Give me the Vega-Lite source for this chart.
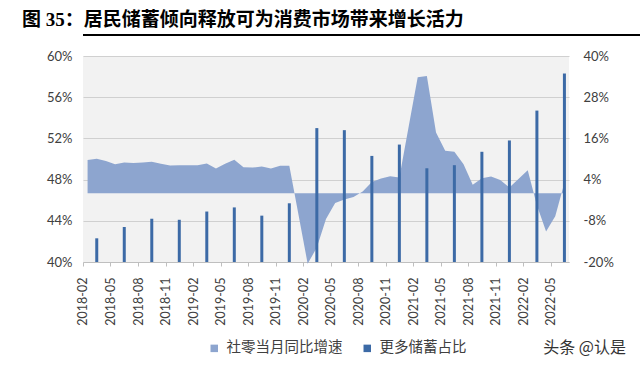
{
  "$schema": "https://vega.github.io/schema/vega-lite/v6.json",
  "background": "white",
  "padding": {"left": 22, "top": 11, "right": 0, "bottom": 12},
  "title": {"text": "图 35：居民储蓄倾向释放可为消费市场带来增长活力", "anchor": "start", "font": "Liberation Serif, Noto Sans CJK SC", "fontSize": 19, "fontWeight": "bold", "color": "#000000", "offset": 4},
  "spacing": 14,
  "datasets": {
    "d": [
      {"month": "2018-02", "series": "社零当月同比增速", "value": 0.097},
      {"month": "2018-03", "series": "社零当月同比增速", "value": 0.101},
      {"month": "2018-04", "series": "社零当月同比增速", "value": 0.094},
      {"month": "2018-05", "series": "社零当月同比增速", "value": 0.085},
      {"month": "2018-06", "series": "社零当月同比增速", "value": 0.090},
      {"month": "2018-07", "series": "社零当月同比增速", "value": 0.088},
      {"month": "2018-08", "series": "社零当月同比增速", "value": 0.090},
      {"month": "2018-09", "series": "社零当月同比增速", "value": 0.092},
      {"month": "2018-10", "series": "社零当月同比增速", "value": 0.086},
      {"month": "2018-11", "series": "社零当月同比增速", "value": 0.081},
      {"month": "2018-12", "series": "社零当月同比增速", "value": 0.082},
      {"month": "2019-02", "series": "社零当月同比增速", "value": 0.082},
      {"month": "2019-03", "series": "社零当月同比增速", "value": 0.087},
      {"month": "2019-04", "series": "社零当月同比增速", "value": 0.072},
      {"month": "2019-05", "series": "社零当月同比增速", "value": 0.086},
      {"month": "2019-06", "series": "社零当月同比增速", "value": 0.098},
      {"month": "2019-07", "series": "社零当月同比增速", "value": 0.076},
      {"month": "2019-08", "series": "社零当月同比增速", "value": 0.075},
      {"month": "2019-09", "series": "社零当月同比增速", "value": 0.078},
      {"month": "2019-10", "series": "社零当月同比增速", "value": 0.072},
      {"month": "2019-11", "series": "社零当月同比增速", "value": 0.080},
      {"month": "2019-12", "series": "社零当月同比增速", "value": 0.080},
      {"month": "2020-02", "series": "社零当月同比增速", "value": -0.205},
      {"month": "2020-03", "series": "社零当月同比增速", "value": -0.158},
      {"month": "2020-04", "series": "社零当月同比增速", "value": -0.075},
      {"month": "2020-05", "series": "社零当月同比增速", "value": -0.028},
      {"month": "2020-06", "series": "社零当月同比增速", "value": -0.018},
      {"month": "2020-07", "series": "社零当月同比增速", "value": -0.011},
      {"month": "2020-08", "series": "社零当月同比增速", "value": 0.005},
      {"month": "2020-09", "series": "社零当月同比增速", "value": 0.033},
      {"month": "2020-10", "series": "社零当月同比增速", "value": 0.043},
      {"month": "2020-11", "series": "社零当月同比增速", "value": 0.050},
      {"month": "2020-12", "series": "社零当月同比增速", "value": 0.046},
      {"month": "2021-02", "series": "社零当月同比增速", "value": 0.338},
      {"month": "2021-03", "series": "社零当月同比增速", "value": 0.342},
      {"month": "2021-04", "series": "社零当月同比增速", "value": 0.177},
      {"month": "2021-05", "series": "社零当月同比增速", "value": 0.124},
      {"month": "2021-06", "series": "社零当月同比增速", "value": 0.121},
      {"month": "2021-07", "series": "社零当月同比增速", "value": 0.085},
      {"month": "2021-08", "series": "社零当月同比增速", "value": 0.025},
      {"month": "2021-09", "series": "社零当月同比增速", "value": 0.044},
      {"month": "2021-10", "series": "社零当月同比增速", "value": 0.049},
      {"month": "2021-11", "series": "社零当月同比增速", "value": 0.039},
      {"month": "2021-12", "series": "社零当月同比增速", "value": 0.017},
      {"month": "2022-02", "series": "社零当月同比增速", "value": 0.067},
      {"month": "2022-03", "series": "社零当月同比增速", "value": -0.035},
      {"month": "2022-04", "series": "社零当月同比增速", "value": -0.111},
      {"month": "2022-05", "series": "社零当月同比增速", "value": -0.067},
      {"month": "2022-06", "series": "社零当月同比增速", "value": 0.031},
      {"month": "2018-03", "series": "更多储蓄占比", "value": 0.423},
      {"month": "2018-06", "series": "更多储蓄占比", "value": 0.434},
      {"month": "2018-09", "series": "更多储蓄占比", "value": 0.442},
      {"month": "2018-12", "series": "更多储蓄占比", "value": 0.441},
      {"month": "2019-03", "series": "更多储蓄占比", "value": 0.449},
      {"month": "2019-06", "series": "更多储蓄占比", "value": 0.453},
      {"month": "2019-09", "series": "更多储蓄占比", "value": 0.445},
      {"month": "2019-12", "series": "更多储蓄占比", "value": 0.457},
      {"month": "2020-03", "series": "更多储蓄占比", "value": 0.530},
      {"month": "2020-06", "series": "更多储蓄占比", "value": 0.528},
      {"month": "2020-09", "series": "更多储蓄占比", "value": 0.503},
      {"month": "2020-12", "series": "更多储蓄占比", "value": 0.514},
      {"month": "2021-03", "series": "更多储蓄占比", "value": 0.491},
      {"month": "2021-06", "series": "更多储蓄占比", "value": 0.494},
      {"month": "2021-09", "series": "更多储蓄占比", "value": 0.507},
      {"month": "2021-12", "series": "更多储蓄占比", "value": 0.518},
      {"month": "2022-03", "series": "更多储蓄占比", "value": 0.547},
      {"month": "2022-06", "series": "更多储蓄占比", "value": 0.583}
    ]
  },
  "vconcat": [
    {
      "width": 590,
      "height": 2,
      "data": {"values": [{"k": 1}]},
      "view": {"fill": "#000000", "stroke": null},
      "mark": {"type": "rect", "color": "#000000"},
      "encoding": {}
    },
    {
      "width": 486,
      "height": 206,
      "data": {"name": "d"},
      "view": {"fill": "#f2f2f2", "stroke": null},
      "title": {"text": "头条 @认是", "orient": "bottom", "anchor": "end", "frame": "group", "dx": 57, "dy": 15, "offset": 0, "font": "Noto Sans CJK SC", "fontSize": 16, "fontWeight": "normal", "color": "#333333"},
      "layer": [
        {
          "transform": [{"filter": "datum.series === '社零当月同比增速'"}],
          "mark": {"type": "area", "opacity": 1, "interpolate": "linear"},
          "encoding": {
            "x": {
              "field": "month", "type": "ordinal", "bandPosition": 0.5,
              "scale": {"domain": ["2018-02","2018-03","2018-04","2018-05","2018-06","2018-07","2018-08","2018-09","2018-10","2018-11","2018-12","2019-01","2019-02","2019-03","2019-04","2019-05","2019-06","2019-07","2019-08","2019-09","2019-10","2019-11","2019-12","2020-01","2020-02","2020-03","2020-04","2020-05","2020-06","2020-07","2020-08","2020-09","2020-10","2020-11","2020-12","2021-01","2021-02","2021-03","2021-04","2021-05","2021-06","2021-07","2021-08","2021-09","2021-10","2021-11","2021-12","2022-01","2022-02","2022-03","2022-04","2022-05","2022-06"], "type": "band", "paddingInner": 0, "paddingOuter": 0},
              "axis": {"values": ["2018-02","2018-05","2018-08","2018-11","2019-02","2019-05","2019-08","2019-11","2020-02","2020-05","2020-08","2020-11","2021-02","2021-05","2021-08","2021-11","2022-02","2022-05"], "title": null, "labelAngle": -90, "labelAlign": "right", "labelBaseline": "middle", "labelPadding": 11, "labelFont": "Lato", "labelFontSize": 12.5, "labelColor": "#404040", "labelOverlap": false, "tickSize": 4, "tickColor": "#bfbfbf", "tickOffset": -4.6, "domainColor": "#bfbfbf", "grid": false}
            },
            "y": {"field": "value", "type": "quantitative", "scale": {"domain": [-0.2, 0.4], "nice": false, "zero": false}, "axis": {"orient": "right", "values": [-0.2, -0.08, 0.04, 0.16, 0.28, 0.4], "format": ".0%", "labelExpr": "replace(datum.label, '−', '-')", "title": null, "grid": false, "ticks": false, "domain": false, "labelPadding": 14, "labelFont": "Lato", "labelFontSize": 13, "labelColor": "#404040"}},
            "y2": {"datum": 0},
            "color": {"field": "series", "type": "nominal", "scale": {"domain": ["社零当月同比增速", "更多储蓄占比"], "range": ["#8da5cf", "#3c6aa6"]}, "legend": {"orient": "none", "legendX": 124, "legendY": 307, "direction": "horizontal", "title": null, "symbolType": "square", "symbolSize": 56, "symbolStrokeWidth": 0, "labelFont": "Noto Sans CJK SC", "labelFontSize": 14.5, "labelColor": "#404040", "labelOffset": 5, "columnPadding": 17, "padding": 0}}
          }
        },
        {
          "transform": [{"filter": "datum.series === '更多储蓄占比'"}],
          "mark": {"type": "bar", "size": 3},
          "encoding": {
            "x": {
              "field": "month", "type": "ordinal",
              "scale": {"domain": ["2018-02","2018-03","2018-04","2018-05","2018-06","2018-07","2018-08","2018-09","2018-10","2018-11","2018-12","2019-01","2019-02","2019-03","2019-04","2019-05","2019-06","2019-07","2019-08","2019-09","2019-10","2019-11","2019-12","2020-01","2020-02","2020-03","2020-04","2020-05","2020-06","2020-07","2020-08","2020-09","2020-10","2020-11","2020-12","2021-01","2021-02","2021-03","2021-04","2021-05","2021-06","2021-07","2021-08","2021-09","2021-10","2021-11","2021-12","2022-01","2022-02","2022-03","2022-04","2022-05","2022-06"], "type": "band", "paddingInner": 0, "paddingOuter": 0},
              "axis": {"values": ["2018-02","2018-05","2018-08","2018-11","2019-02","2019-05","2019-08","2019-11","2020-02","2020-05","2020-08","2020-11","2021-02","2021-05","2021-08","2021-11","2022-02","2022-05"], "title": null, "labelAngle": -90, "labelAlign": "right", "labelBaseline": "middle", "labelPadding": 11, "labelFont": "Lato", "labelFontSize": 12.5, "labelColor": "#404040", "labelOverlap": false, "tickSize": 4, "tickColor": "#bfbfbf", "tickOffset": -4.6, "domainColor": "#bfbfbf", "grid": false}
            },
            "y": {"field": "value", "type": "quantitative", "scale": {"domain": [0.4, 0.6], "nice": false, "zero": false}, "axis": {"orient": "left", "values": [0.4, 0.44, 0.48, 0.52, 0.56, 0.6], "format": ".0%", "title": null, "grid": true, "gridColor": "#d0d0d0", "ticks": false, "domain": false, "labelPadding": 11, "minExtent": 61, "labelFont": "Lato", "labelFontSize": 13, "labelColor": "#404040"}},
            "y2": {"datum": 0.4},
            "color": {"field": "series", "type": "nominal", "scale": {"domain": ["社零当月同比增速", "更多储蓄占比"], "range": ["#8da5cf", "#3c6aa6"]}, "legend": {"orient": "none", "legendX": 124, "legendY": 307, "direction": "horizontal", "title": null, "symbolType": "square", "symbolSize": 56, "symbolStrokeWidth": 0, "labelFont": "Noto Sans CJK SC", "labelFontSize": 14.5, "labelColor": "#404040", "labelOffset": 5, "columnPadding": 17, "padding": 0}}
          }
        }
      ],
      "resolve": {"scale": {"y": "independent"}}
    }
  ],
  "config": {"view": {"stroke": null}}
}
